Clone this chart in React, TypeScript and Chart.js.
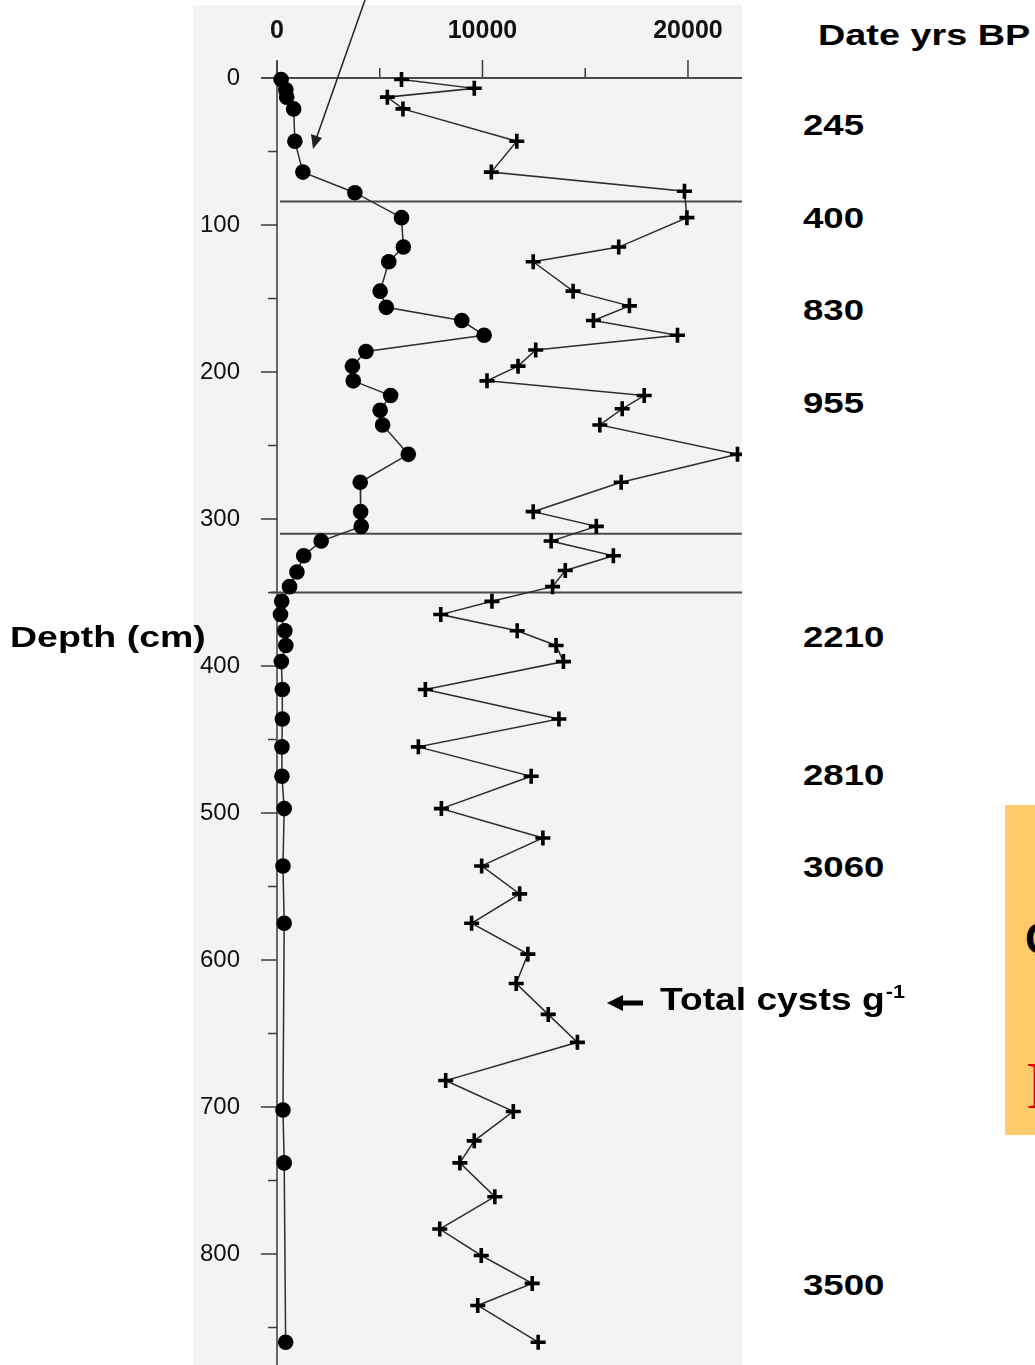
import React, { useEffect, useRef } from "react";
import { Chart, registerables } from "chart.js";

Chart.register(...registerables);

const FONT = '"Liberation Sans", Arial, Helvetica, sans-serif';

// Black dots series: depth (cm) and count
const dotDepths = [1, 8, 13, 21, 43, 64, 78, 95, 115, 125, 145, 156, 165, 175, 186, 196, 206, 216, 226, 236, 256, 275, 295, 305, 315, 325, 336, 346, 356, 365, 376, 386, 397, 416, 436, 455, 475, 497, 536, 575, 702, 738, 860];
const dotCounts = [200, 430, 470, 810, 870, 1260, 3790, 6060, 6150, 5440, 5020, 5320, 8990, 10080, 4330, 3670, 3710, 5530, 5020, 5140, 6390, 4050, 4070, 4100, 2150, 1300, 970, 610, 230, 170, 380, 430, 210, 260, 260, 240, 240, 350, 290, 350, 290, 350, 420];

// Total cysts g-1 series (crosses)
const totalDepths = [1, 7, 13, 21, 43, 64, 77, 95, 115, 125, 145, 155, 165, 175, 185, 196, 206, 216, 225, 236, 256, 275, 295, 305, 315, 325, 335, 346, 356, 365, 376, 386, 397, 416, 436, 455, 475, 497, 517, 536, 555, 575, 596, 616, 637, 656, 682, 703, 723, 738, 761, 783, 801, 820, 835, 860];
const totalCounts = [6060, 9600, 5370, 6130, 11670, 10430, 19830, 19950, 16630, 12470, 14410, 17150, 15400, 19490, 12590, 11730, 10220, 17870, 16800, 15710, 22410, 16750, 12470, 15540, 13340, 16370, 14030, 13410, 10460, 7970, 11690, 13580, 13940, 7220, 13720, 6880, 12370, 8000, 12940, 9960, 11810, 9470, 12210, 11640, 13200, 14620, 8210, 11500, 9600, 8900, 10600, 7920, 9940, 12420, 9770, 12710];

const countLabelValues = [0, 10000, 20000];
const countTickValues = [0, 5000, 10000, 15000, 20000];
const depthLabelValues = [0, 100, 200, 300, 400, 500, 600, 700, 800];
const depthTickValues = [0, 50, 100, 150, 200, 250, 300, 350, 400, 450, 500, 550, 600, 650, 700, 750, 800, 850];
const zoneDepths = [0, 84, 310, 350];

const dateLabels = ["245", "400", "830", "955", "2210", "2810", "3060", "3500"];
const dateDepths = [32, 95, 158, 221, 380, 474, 537, 821];

const PANEL_LEFT = 193;
const PANEL_TOP = 5;
const PANEL_W = 549;
const PANEL_H = 1360;

const axesPlugin = {
  id: "coreAxes",
  beforeDatasetsDraw(chart: any) {
    const { ctx, chartArea, scales } = chart;
    const xs = scales.x;
    const ys = scales.y;
    const x0 = xs.getPixelForValue(0);
    const y0 = ys.getPixelForValue(0);
    const seg = (a: number, b: number, c: number, d: number) => {
      ctx.beginPath();
      ctx.moveTo(a, b);
      ctx.lineTo(c, d);
      ctx.stroke();
    };
    ctx.save();
    ctx.strokeStyle = "#3a3a3a";
    ctx.lineWidth = 1.5;
    seg(x0, chartArea.top - 1, x0, chartArea.bottom);
    depthTickValues.forEach((d) => {
      const py = ys.getPixelForValue(d);
      const len = d % 100 === 0 ? 16 : 9;
      seg(x0 - len, py, x0, py);
    });
    countTickValues.forEach((v) => {
      const px = xs.getPixelForValue(v);
      const len = v % 10000 === 0 ? 18 : 10;
      seg(px, y0 - len, px, y0);
    });
    ctx.lineWidth = 2;
    ctx.strokeStyle = "#4a4a4a";
    zoneDepths.forEach((d) => {
      const py = ys.getPixelForValue(d);
      const start = d === 0 ? x0 - 16 : d === 350 ? x0 - 6 : x0 + 3;
      seg(start, py, chartArea.right, py);
    });
    ctx.restore();
  },
};

const dateStyle: React.CSSProperties = {
  position: "absolute",
  left: 803,
  fontFamily: FONT,
  fontWeight: 700,
  fontSize: 30,
  lineHeight: "30px",
  whiteSpace: "nowrap",
  transform: "scaleX(1.22)",
  transformOrigin: "0 50%",
  color: "#000",
};

export default function App() {
  const canvasRef = useRef<HTMLCanvasElement | null>(null);
  const dateRefs = useRef<(HTMLDivElement | null)[]>([]);

  useEffect(() => {
    const canvas = canvasRef.current;
    if (!canvas) return;
    const chart = new Chart(canvas, {
      type: "scatter",
      data: {
        datasets: [
          {
            label: "Cysts",
            data: dotDepths.map((d, i) => ({ x: dotCounts[i], y: d })),
            showLine: true,
            borderColor: "#2e2e2e",
            borderWidth: 1.5,
            pointStyle: "circle",
            pointRadius: 7.8,
            pointBackgroundColor: "#000",
            pointBorderColor: "#000",
            pointBorderWidth: 0,
            clip: false,
          },
          {
            label: "Total cysts g-1",
            data: totalDepths.map((d, i) => ({ x: totalCounts[i], y: d })),
            showLine: true,
            borderColor: "#2e2e2e",
            borderWidth: 1.5,
            pointStyle: "cross",
            pointRadius: 7.5,
            pointBorderColor: "#000",
            pointBackgroundColor: "#000",
            pointBorderWidth: 3.6,
            clip: false,
          },
        ],
      } as any,
      options: {
        responsive: false,
        animation: false,
        devicePixelRatio: 1,
        layout: { padding: 0, autoPadding: false },
        plugins: {
          legend: { display: false },
          tooltip: { enabled: false },
          title: { display: false },
        },
        scales: {
          x: {
            type: "linear",
            position: "top",
            min: 0,
            max: 22630,
            grid: { display: false, drawTicks: false },
            border: { display: false },
            afterBuildTicks: (s: any) => {
              s.ticks = countLabelValues.map((v) => ({ value: v }));
            },
            ticks: {
              autoSkip: false,
              maxRotation: 0,
              padding: 16,
              color: "#111",
              font: { family: FONT, size: 25, weight: "bold" },
              callback: (v: any) => String(v),
            },
            afterFit: (s: any) => {
              s.height = 57;
              s.paddingLeft = 0;
              s.paddingRight = 0;
            },
          },
          y: {
            type: "linear",
            reverse: true,
            min: -10.9,
            max: 875.5,
            grid: { display: false, drawTicks: false },
            border: { display: false },
            afterBuildTicks: (s: any) => {
              s.ticks = depthLabelValues.map((v) => ({ value: v }));
            },
            ticks: {
              autoSkip: false,
              padding: 37,
              color: "#111",
              font: { family: FONT, size: 24 },
              callback: (v: any) => String(v),
            },
            afterFit: (s: any) => {
              s.width = 84;
              s.paddingTop = 0;
              s.paddingBottom = 0;
            },
          },
        },
      } as any,
      plugins: [axesPlugin],
    });
    const ys = chart.scales.y;
    dateRefs.current.forEach((el, i) => {
      if (el) el.style.top = `${PANEL_TOP + ys.getPixelForValue(dateDepths[i]) - 15}px`;
    });
    return () => chart.destroy();
  }, []);

  return (
    <div
      style={{
        position: "absolute",
        left: 0,
        top: 0,
        width: 1035,
        height: 1365,
        background: "#fff",
        overflow: "hidden",
      }}
    >
      <canvas
        ref={canvasRef}
        width={PANEL_W}
        height={PANEL_H}
        style={{
          position: "absolute",
          left: PANEL_LEFT,
          top: PANEL_TOP,
          width: PANEL_W,
          height: PANEL_H,
          background: "#f3f3f3",
        }}
      />
      <div style={{ ...dateStyle, left: 818, top: 20, transform: "scaleX(1.26)" }}>Date yrs BP</div>
      {dateLabels.map((t, i) => (
        <div
          key={t}
          ref={(el) => {
            dateRefs.current[i] = el;
          }}
          style={{ ...dateStyle, top: 0 }}
        >
          {t}
        </div>
      ))}
      <div style={{ ...dateStyle, left: 10, top: 622, transform: "scaleX(1.25)" }}>Depth (cm)</div>
      <div style={{ ...dateStyle, left: 660, top: 985, fontSize: 31, transform: "scaleX(1.2)" }}>
        Total cysts g
        <span style={{ fontSize: 18, position: "relative", top: -12, marginLeft: 1 }}>-1</span>
      </div>
      <div
        style={{
          position: "absolute",
          left: 1005,
          top: 805,
          width: 30,
          height: 330,
          background: "#fecb6b",
          overflow: "hidden",
        }}
      >
        <div
          style={{
            position: "absolute",
            left: 20,
            top: 112,
            fontFamily: FONT,
            fontWeight: 700,
            fontSize: 44,
            lineHeight: "44px",
            color: "#000",
          }}
        >
          C
        </div>
        <div
          style={{
            position: "absolute",
            left: 21,
            top: 246,
            fontFamily: '"Liberation Serif", "Times New Roman", serif',
            fontSize: 68,
            lineHeight: "68px",
            color: "#e00000",
          }}
        >
          P
        </div>
      </div>
      <svg
        width={1035}
        height={1365}
        style={{ position: "absolute", left: 0, top: 0, pointerEvents: "none" }}
      >
        <line x1={365} y1={0} x2={315} y2={142} stroke="#222" strokeWidth={1.5} />
        <polygon points="313,149 322,138 311,134" fill="#222" />
        <polygon points="607,1003 623,995 623,1011" fill="#000" />
        <rect x={621} y={1000.5} width={22} height={5} fill="#000" />
      </svg>
    </div>
  );
}
